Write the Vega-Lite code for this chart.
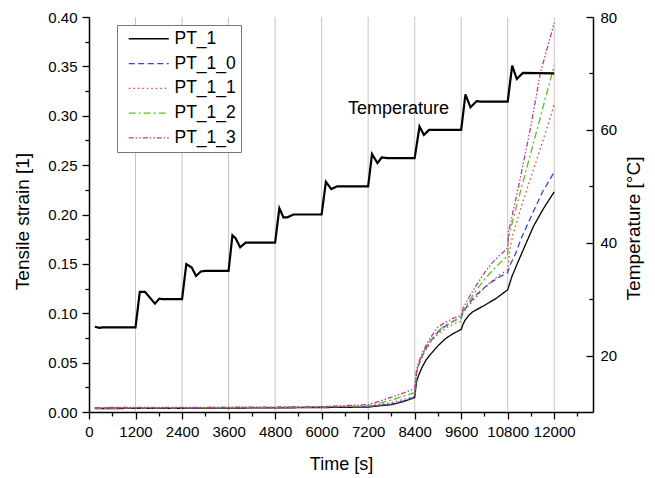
{
  "$schema": "https://vega.github.io/schema/vega-lite/v6.json",
  "width": 504,
  "height": 395,
  "autosize": "none",
  "padding": {"left": 89, "top": 17, "right": 62, "bottom": 66},
  "config": {
    "font": "Liberation Sans",
    "view": {"stroke": null},
    "legend": {"strokeWidth": 1},
    "axis": {
      "domainColor": "#000", "domainWidth": 1.5, "tickColor": "#000", "tickWidth": 1.3,
      "labelColor": "#000", "labelFontSize": 15, "labelFont": "Liberation Sans",
      "titleColor": "#000", "titleFontSize": 19, "titleFontWeight": "normal", "titleFont": "Liberation Sans",
      "grid": false
    }
  },
  "datasets": {
    "grid": [{"t": 1200}, {"t": 2400}, {"t": 3600}, {"t": 4800}, {"t": 6000}, {"t": 7200}, {"t": 8400}, {"t": 9600}, {"t": 10800}, {"t": 12000}],
    "label": [{"t": 6682, "temp": 63.7, "label": "Temperature"}],
    "temperature": [
      {"t": 150, "temp": 25.1}, {"t": 270, "temp": 24.9}, {"t": 350, "temp": 25}, {"t": 1200, "temp": 25},
      {"t": 1310, "temp": 31.3}, {"t": 1445, "temp": 31.3}, {"t": 1700, "temp": 29.2}, {"t": 1815, "temp": 30.1}, {"t": 1900, "temp": 30}, {"t": 2400, "temp": 30},
      {"t": 2510, "temp": 36.2}, {"t": 2650, "temp": 35.6}, {"t": 2760, "temp": 34.1}, {"t": 2885, "temp": 34.9}, {"t": 3000, "temp": 35}, {"t": 3600, "temp": 35},
      {"t": 3700, "temp": 41.3}, {"t": 3780, "temp": 40.8}, {"t": 3900, "temp": 39.2}, {"t": 4040, "temp": 40}, {"t": 4800, "temp": 40},
      {"t": 4910, "temp": 46.1}, {"t": 5015, "temp": 44.5}, {"t": 5120, "temp": 44.5}, {"t": 5270, "temp": 45}, {"t": 6000, "temp": 45},
      {"t": 6110, "temp": 50.8}, {"t": 6250, "temp": 49.5}, {"t": 6400, "temp": 50}, {"t": 7200, "temp": 50},
      {"t": 7300, "temp": 55.7}, {"t": 7440, "temp": 54.1}, {"t": 7550, "temp": 55.1}, {"t": 7700, "temp": 55}, {"t": 8400, "temp": 55},
      {"t": 8525, "temp": 60.6}, {"t": 8640, "temp": 59.1}, {"t": 8770, "temp": 60}, {"t": 9600, "temp": 60},
      {"t": 9710, "temp": 66.3}, {"t": 9840, "temp": 64}, {"t": 10000, "temp": 65.1}, {"t": 10100, "temp": 65}, {"t": 10800, "temp": 65},
      {"t": 10915, "temp": 71.4}, {"t": 11035, "temp": 69}, {"t": 11190, "temp": 70.1}, {"t": 12000, "temp": 70}
    ],
    "strain": [
      {"t": 150, "s": 0.0035, "k": "PT_1"}, {"t": 1200, "s": 0.0036, "k": "PT_1"}, {"t": 2400, "s": 0.0038, "k": "PT_1"}, {"t": 3600, "s": 0.004, "k": "PT_1"}, {"t": 4800, "s": 0.0042, "k": "PT_1"}, {"t": 6000, "s": 0.0045, "k": "PT_1"}, {"t": 7200, "s": 0.005, "k": "PT_1"}, {"t": 7800, "s": 0.0075, "k": "PT_1"}, {"t": 8100, "s": 0.0105, "k": "PT_1"}, {"t": 8400, "s": 0.0145, "k": "PT_1"}, {"t": 8450, "s": 0.031, "k": "PT_1"}, {"t": 8500, "s": 0.037, "k": "PT_1"}, {"t": 8600, "s": 0.046, "k": "PT_1"}, {"t": 8700, "s": 0.053, "k": "PT_1"}, {"t": 8800, "s": 0.058, "k": "PT_1"}, {"t": 9000, "s": 0.067, "k": "PT_1"}, {"t": 9200, "s": 0.0745, "k": "PT_1"}, {"t": 9400, "s": 0.0795, "k": "PT_1"}, {"t": 9600, "s": 0.0837, "k": "PT_1"}, {"t": 9650, "s": 0.089, "k": "PT_1"}, {"t": 9700, "s": 0.093, "k": "PT_1"}, {"t": 9800, "s": 0.098, "k": "PT_1"}, {"t": 9900, "s": 0.1015, "k": "PT_1"}, {"t": 10200, "s": 0.108, "k": "PT_1"}, {"t": 10500, "s": 0.115, "k": "PT_1"}, {"t": 10800, "s": 0.1238, "k": "PT_1"}, {"t": 10906, "s": 0.137, "k": "PT_1"}, {"t": 11120, "s": 0.157, "k": "PT_1"}, {"t": 11464, "s": 0.188, "k": "PT_1"}, {"t": 11722, "s": 0.206, "k": "PT_1"}, {"t": 12000, "s": 0.223, "k": "PT_1"},
      {"t": 150, "s": 0.004, "k": "PT_1_0"}, {"t": 2400, "s": 0.0042, "k": "PT_1_0"}, {"t": 4800, "s": 0.0045, "k": "PT_1_0"}, {"t": 6000, "s": 0.005, "k": "PT_1_0"}, {"t": 7200, "s": 0.0055, "k": "PT_1_0"}, {"t": 7800, "s": 0.008, "k": "PT_1_0"}, {"t": 8100, "s": 0.011, "k": "PT_1_0"}, {"t": 8400, "s": 0.015, "k": "PT_1_0"}, {"t": 8450, "s": 0.04, "k": "PT_1_0"}, {"t": 8500, "s": 0.047, "k": "PT_1_0"}, {"t": 8600, "s": 0.057, "k": "PT_1_0"}, {"t": 8700, "s": 0.065, "k": "PT_1_0"}, {"t": 8800, "s": 0.071, "k": "PT_1_0"}, {"t": 9000, "s": 0.081, "k": "PT_1_0"}, {"t": 9200, "s": 0.087, "k": "PT_1_0"}, {"t": 9400, "s": 0.092, "k": "PT_1_0"}, {"t": 9600, "s": 0.0955, "k": "PT_1_0"}, {"t": 9650, "s": 0.101, "k": "PT_1_0"}, {"t": 9800, "s": 0.11, "k": "PT_1_0"}, {"t": 10000, "s": 0.119, "k": "PT_1_0"}, {"t": 10200, "s": 0.126, "k": "PT_1_0"}, {"t": 10400, "s": 0.132, "k": "PT_1_0"}, {"t": 10600, "s": 0.137, "k": "PT_1_0"}, {"t": 10800, "s": 0.141, "k": "PT_1_0"}, {"t": 10850, "s": 0.148, "k": "PT_1_0"}, {"t": 11000, "s": 0.16, "k": "PT_1_0"}, {"t": 11150, "s": 0.176, "k": "PT_1_0"}, {"t": 11450, "s": 0.202, "k": "PT_1_0"}, {"t": 11700, "s": 0.223, "k": "PT_1_0"}, {"t": 12000, "s": 0.243, "k": "PT_1_0"},
      {"t": 150, "s": 0.004, "k": "PT_1_1"}, {"t": 2400, "s": 0.0043, "k": "PT_1_1"}, {"t": 4800, "s": 0.0047, "k": "PT_1_1"}, {"t": 6000, "s": 0.005, "k": "PT_1_1"}, {"t": 7200, "s": 0.006, "k": "PT_1_1"}, {"t": 7800, "s": 0.0095, "k": "PT_1_1"}, {"t": 8100, "s": 0.0125, "k": "PT_1_1"}, {"t": 8400, "s": 0.016, "k": "PT_1_1"}, {"t": 8450, "s": 0.04, "k": "PT_1_1"}, {"t": 8500, "s": 0.047, "k": "PT_1_1"}, {"t": 8600, "s": 0.057, "k": "PT_1_1"}, {"t": 8700, "s": 0.064, "k": "PT_1_1"}, {"t": 8800, "s": 0.07, "k": "PT_1_1"}, {"t": 9000, "s": 0.079, "k": "PT_1_1"}, {"t": 9200, "s": 0.085, "k": "PT_1_1"}, {"t": 9400, "s": 0.089, "k": "PT_1_1"}, {"t": 9600, "s": 0.092, "k": "PT_1_1"}, {"t": 9620, "s": 0.099, "k": "PT_1_1"}, {"t": 9800, "s": 0.108, "k": "PT_1_1"}, {"t": 10000, "s": 0.117, "k": "PT_1_1"}, {"t": 10200, "s": 0.126, "k": "PT_1_1"}, {"t": 10400, "s": 0.133, "k": "PT_1_1"}, {"t": 10600, "s": 0.139, "k": "PT_1_1"}, {"t": 10800, "s": 0.144, "k": "PT_1_1"}, {"t": 10850, "s": 0.163, "k": "PT_1_1"}, {"t": 10930, "s": 0.179, "k": "PT_1_1"}, {"t": 11000, "s": 0.188, "k": "PT_1_1"}, {"t": 11200, "s": 0.214, "k": "PT_1_1"}, {"t": 11460, "s": 0.245, "k": "PT_1_1"}, {"t": 11750, "s": 0.28, "k": "PT_1_1"}, {"t": 12000, "s": 0.311, "k": "PT_1_1"},
      {"t": 150, "s": 0.004, "k": "PT_1_2"}, {"t": 2400, "s": 0.0043, "k": "PT_1_2"}, {"t": 4800, "s": 0.0047, "k": "PT_1_2"}, {"t": 6000, "s": 0.0052, "k": "PT_1_2"}, {"t": 7200, "s": 0.0062, "k": "PT_1_2"}, {"t": 7800, "s": 0.012, "k": "PT_1_2"}, {"t": 8100, "s": 0.016, "k": "PT_1_2"}, {"t": 8400, "s": 0.0195, "k": "PT_1_2"}, {"t": 8450, "s": 0.041, "k": "PT_1_2"}, {"t": 8500, "s": 0.048, "k": "PT_1_2"}, {"t": 8600, "s": 0.058, "k": "PT_1_2"}, {"t": 8700, "s": 0.066, "k": "PT_1_2"}, {"t": 8800, "s": 0.072, "k": "PT_1_2"}, {"t": 9000, "s": 0.082, "k": "PT_1_2"}, {"t": 9200, "s": 0.088, "k": "PT_1_2"}, {"t": 9400, "s": 0.092, "k": "PT_1_2"}, {"t": 9600, "s": 0.096, "k": "PT_1_2"}, {"t": 9650, "s": 0.102, "k": "PT_1_2"}, {"t": 9800, "s": 0.112, "k": "PT_1_2"}, {"t": 10000, "s": 0.124, "k": "PT_1_2"}, {"t": 10200, "s": 0.134, "k": "PT_1_2"}, {"t": 10400, "s": 0.143, "k": "PT_1_2"}, {"t": 10600, "s": 0.151, "k": "PT_1_2"}, {"t": 10800, "s": 0.158, "k": "PT_1_2"}, {"t": 10820, "s": 0.177, "k": "PT_1_2"}, {"t": 11100, "s": 0.219, "k": "PT_1_2"}, {"t": 11400, "s": 0.263, "k": "PT_1_2"}, {"t": 11700, "s": 0.307, "k": "PT_1_2"}, {"t": 12000, "s": 0.351, "k": "PT_1_2"},
      {"t": 150, "s": 0.0045, "k": "PT_1_3"}, {"t": 2400, "s": 0.0047, "k": "PT_1_3"}, {"t": 4800, "s": 0.005, "k": "PT_1_3"}, {"t": 6000, "s": 0.0055, "k": "PT_1_3"}, {"t": 7200, "s": 0.0075, "k": "PT_1_3"}, {"t": 7500, "s": 0.011, "k": "PT_1_3"}, {"t": 7800, "s": 0.015, "k": "PT_1_3"}, {"t": 8100, "s": 0.019, "k": "PT_1_3"}, {"t": 8400, "s": 0.0235, "k": "PT_1_3"}, {"t": 8450, "s": 0.043, "k": "PT_1_3"}, {"t": 8500, "s": 0.05, "k": "PT_1_3"}, {"t": 8600, "s": 0.06, "k": "PT_1_3"}, {"t": 8700, "s": 0.068, "k": "PT_1_3"}, {"t": 8800, "s": 0.075, "k": "PT_1_3"}, {"t": 9000, "s": 0.086, "k": "PT_1_3"}, {"t": 9200, "s": 0.091, "k": "PT_1_3"}, {"t": 9400, "s": 0.095, "k": "PT_1_3"}, {"t": 9600, "s": 0.098, "k": "PT_1_3"}, {"t": 9650, "s": 0.105, "k": "PT_1_3"}, {"t": 9800, "s": 0.116, "k": "PT_1_3"}, {"t": 10000, "s": 0.129, "k": "PT_1_3"}, {"t": 10200, "s": 0.141, "k": "PT_1_3"}, {"t": 10400, "s": 0.151, "k": "PT_1_3"}, {"t": 10600, "s": 0.159, "k": "PT_1_3"}, {"t": 10800, "s": 0.166, "k": "PT_1_3"}, {"t": 10820, "s": 0.182, "k": "PT_1_3"}, {"t": 11100, "s": 0.232, "k": "PT_1_3"}, {"t": 11400, "s": 0.29, "k": "PT_1_3"}, {"t": 11640, "s": 0.343, "k": "PT_1_3"}, {"t": 12000, "s": 0.394, "k": "PT_1_3"}
    ]
  },
  "encoding": {
    "x": {
      "field": "t", "type": "quantitative",
      "scale": {"domain": [0, 13000], "nice": false, "zero": false},
      "axis": {
        "values": [0, 600, 1200, 1800, 2400, 3000, 3600, 4200, 4800, 5400, 6000, 6600, 7200, 7800, 8400, 9000, 9600, 10200, 10800, 11400, 12000, 12600],
        "labelExpr": "datum.value % 1200 === 0 && datum.value <= 12000 ? format(datum.value, 'd') : ''",
        "tickSize": {"condition": {"test": "datum.value % 1200 === 0", "value": 7}, "value": 4},
        "labelPadding": 5, "labelFlush": false, "labelOverlap": false,
        "title": "Time [s]", "titleFontSize": 18, "titleX": 252, "titleY": 52, "titleBaseline": "middle", "titleAlign": "center"
      }
    }
  },
  "layer": [
    {
      "data": {"name": "grid"},
      "mark": {"type": "rule", "color": "#c4c4c4", "strokeWidth": 1}
    },
    {
      "data": {"name": "strain"},
      "mark": {"type": "line", "strokeWidth": 1.3},
      "encoding": {
        "y": {
          "field": "s", "type": "quantitative",
          "scale": {"domain": [0, 0.4], "nice": false},
          "axis": {
            "values": [0, 0.025, 0.05, 0.075, 0.1, 0.125, 0.15, 0.175, 0.2, 0.225, 0.25, 0.275, 0.3, 0.325, 0.35, 0.375, 0.4],
            "labelExpr": "round(datum.value * 1000) % 50 === 0 ? format(datum.value, '.2f') : ''",
            "tickSize": {"condition": {"test": "round(datum.value * 1000) % 50 === 0", "value": 7}, "value": 4},
            "labelPadding": 5, "labelOverlap": false,
            "title": "Tensile strain [1]", "titleAngle": 270, "titleX": -67, "titleY": 204, "titleBaseline": "middle", "titleAlign": "center"
          }
        },
        "color": {
          "field": "k", "type": "nominal",
          "scale": {"domain": ["PT_1", "PT_1_0", "PT_1_1", "PT_1_2", "PT_1_3"], "range": ["#000000", "#3347cc", "#f23a3a", "#5fbf1f", "#c8349f"]},
          "legend": {
            "title": null, "orient": "none", "legendX": 28, "legendY": 8,
            "padding": 5, "fillColor": "#ffffff", "strokeColor": "#777777",
            "labelFontSize": 17.5, "labelFont": "Liberation Sans", "labelColor": "#000",
            "symbolType": "M-3,0H3", "symbolSize": 178, "symbolStrokeWidth": 1.3, "symbolOffset": 18,
            "labelOffset": 17, "rowPadding": 5.8
          }
        },
        "strokeDash": {
          "field": "k", "type": "nominal",
          "scale": {"domain": ["PT_1", "PT_1_0", "PT_1_1", "PT_1_2", "PT_1_3"], "range": [[1, 0], [6, 3.5], [1.5, 3], [7, 3, 2, 3], [5, 2, 1.5, 2, 1.5, 2]]},
          "legend": {"title": null}
        }
      }
    },
    {
      "encoding": {
        "y": {
          "field": "temp", "type": "quantitative",
          "scale": {"domain": [10, 80], "nice": false, "zero": false},
          "axis": {
            "orient": "right",
            "values": [20, 30, 40, 50, 60, 70, 80],
            "labelExpr": "datum.value % 20 === 0 ? datum.label : ''",
            "tickSize": {"condition": {"test": "datum.value % 20 === 0", "value": -7}, "value": -4},
            "labelPadding": 14, "labelOverlap": false,
            "title": "Temperature [°C]", "titleAngle": 270, "titleX": 40, "titleY": 211, "titleBaseline": "middle", "titleAlign": "center"
          }
        }
      },
      "layer": [
        {
          "data": {"name": "temperature"},
          "mark": {"type": "line", "color": "#000000", "strokeWidth": 2.2}
        },
        {
          "data": {"name": "label"},
          "mark": {"type": "text", "align": "left", "baseline": "middle", "fontSize": 18, "font": "Liberation Sans", "color": "#000"},
          "encoding": {"text": {"field": "label", "type": "nominal"}}
        }
      ]
    }
  ],
  "resolve": {"scale": {"y": "independent"}}
}
